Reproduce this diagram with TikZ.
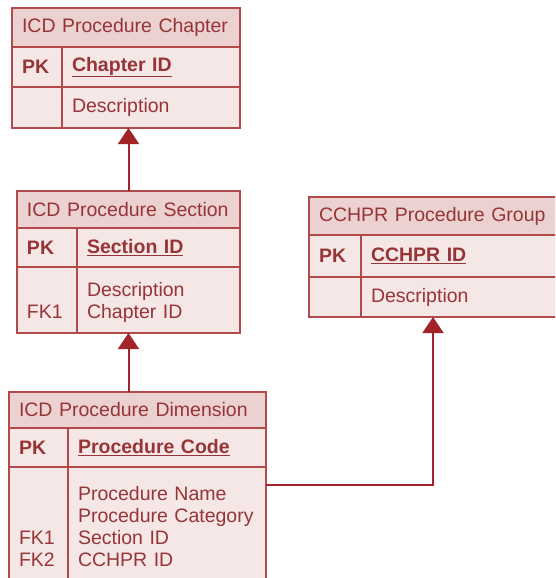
\documentclass[tikz,border=0pt]{standalone}
\usepackage{fontspec}
\setmainfont{Liberation Sans}
\usepackage{xcolor}
\usetikzlibrary{arrows.meta,positioning}

\definecolor{erdline}{RGB}{178,74,76}
\definecolor{erdtext}{RGB}{150,52,54}
\definecolor{erdhead}{RGB}{236,209,209}
\definecolor{erdbody}{RGB}{246,231,231}
\definecolor{erdarrow}{RGB}{160,36,40}
\newcommand{\erdfont}{\fontsize{19.5}{22}\selectfont\hyphenpenalty=10000}
\newcommand{\erdtop}{\rule{0pt}{21.5pt}}

\begin{document}
\begin{tikzpicture}[x=1pt, y=-1pt,
		cell/.style={draw=erdline, line width=1.6pt, anchor=north west, inner xsep=10pt,
			inner ysep=0pt, outer sep=0pt, align=left, text=erdtext, font=\erdfont},
		tblhead/.style={cell, fill=erdhead},
		tblkey/.style={cell, fill=erdbody},
		tblfield/.style={cell, fill=erdbody},
		fklink/.style={draw=erdarrow, line width=2pt,
			-{Triangle[width=21pt, length=16pt, fill=erdarrow]}}]
		\useasboundingbox (0,0) rectangle (555,578);
		\clip (0,0) rectangle (555,578);
		
		% ICD Procedure Chapter
		\node[tblhead, minimum height=39pt, text width=208pt] (chaphead) at (12,8) {ICD Procedure Chapter};
		\node[tblkey, minimum height=40pt, text width=30pt] (chappk) at (chaphead.south west) {\textbf{PK}};
		\node[tblfield, minimum height=40pt, text width=158pt] (chapid) at (chappk.north east) {\underline{\textbf{Chapter ID}}};
		\node[tblkey, minimum height=41pt, text width=30pt] (chapkeys) at (chappk.south west) {};
		\node[tblfield, minimum height=41pt, text width=158pt] (chapbody) at (chapkeys.north east) {Description};
		
		% ICD Procedure Section
		\node[tblhead, minimum height=37pt, text width=203pt] (sechead) at (17,191) {ICD Procedure Section};
		\node[tblkey, minimum height=39pt, text width=40pt] (secpk) at (sechead.south west) {\textbf{PK}};
		\node[tblfield, minimum height=39pt, text width=143pt] (secid) at (secpk.north east) {\underline{\textbf{Section ID}}};
		\node[tblkey, minimum height=66pt, text width=40pt] (seckeys) at (secpk.south west) {\erdtop\\\strut FK1};
		\node[tblfield, minimum height=66pt, text width=143pt] (secbody) at (seckeys.north east) {\erdtop Description\\\strut Chapter ID};
		
		% CCHPR Procedure Group
		\node[tblhead, minimum height=38pt, text width=228pt] (grphead) at (309,197) {CCHPR Procedure Group};
		\node[tblkey, minimum height=42pt, text width=32pt] (grppk) at (grphead.south west) {\textbf{PK}};
		\node[tblfield, minimum height=42pt, text width=176pt] (grpid) at (grppk.north east) {\underline{\textbf{CCHPR ID}}};
		\node[tblkey, minimum height=40pt, text width=32pt] (grpkeys) at (grppk.south west) {};
		\node[tblfield, minimum height=40pt, text width=176pt] (grpbody) at (grpkeys.north east) {Description};
		
		% ICD Procedure Dimension
		\node[tblhead, minimum height=36pt, text width=237pt] (dimhead) at (9,392) {ICD Procedure Dimension};
		\node[tblkey, minimum height=39pt, text width=39pt] (dimpk) at (dimhead.south west) {\textbf{PK}};
		\node[tblfield, minimum height=39pt, text width=178pt] (dimid) at (dimpk.north east) {\underline{\textbf{Procedure Code}}};
		\node[tblkey, minimum height=118pt, text width=39pt] (dimkeys) at (dimpk.south west) {\erdtop\\\strut\\\strut FK1\\\strut FK2};
		\node[tblfield, minimum height=118pt, text width=178pt] (dimbody) at (dimkeys.north east) {\erdtop Procedure Name\\\strut Procedure Category\\\strut Section ID\\\strut CCHPR ID};
		
		% Links
		\coordinate (dimlink) at ([yshift=-18pt]dimbody.north east);
		\draw[fklink] (sechead.north) -- (sechead.north |- chapbody.south);
		\draw[fklink] (dimhead.north -| sechead.north) -- (sechead.north |- secbody.south);
		\draw[fklink] (dimlink) -| (grphead.north |- grpbody.south);
	\end{tikzpicture}
\end{document}
